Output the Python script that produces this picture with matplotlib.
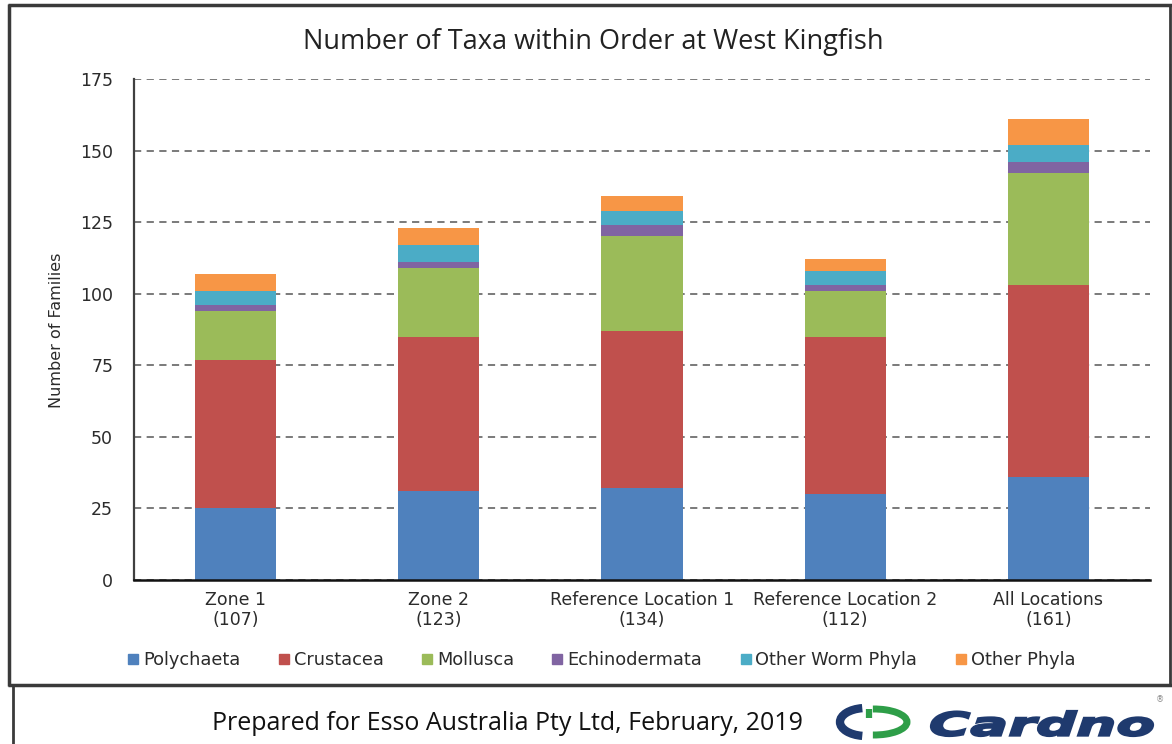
import numpy as np
import matplotlib
matplotlib.use("Agg")
import matplotlib.pyplot as plt
from matplotlib.lines import Line2D
from matplotlib.patches import Arc, PathPatch
from matplotlib.textpath import TextPath
from matplotlib.font_manager import FontProperties
from matplotlib.transforms import Affine2D

# number of families per group at each location
locations = ["Zone 1", "Zone 2", "Reference Location 1", "Reference Location 2", "All Locations"]
groups = ["Polychaeta", "Crustacea", "Mollusca", "Echinodermata", "Other Worm Phyla", "Other Phyla"]
polychaeta = [25, 31, 32, 30, 36]
crustacea = [52, 54, 55, 55, 67]
mollusca = [17, 24, 33, 16, 39]
echinodermata = [2, 2, 4, 2, 4]
other_worm = [5, 6, 5, 5, 6]
other_phyla = [6, 6, 5, 4, 9]
y_ticks = [0, 25, 50, 75, 100, 125, 150, 175]

colors = ["#4F81BD", "#C0504D", "#9BBB59", "#8064A2", "#4BACC6", "#F79646"]
series = [polychaeta, crustacea, mollusca, echinodermata, other_worm, other_phyla]

W, H = 1172, 744
fig = plt.figure(figsize=(W / 100, H / 100), dpi=100)

# full-figure layer in pixel units for the frame and footer
deco = fig.add_axes([0, 0, 1, 1], zorder=-1)
deco.set_xlim(0, W)
deco.set_ylim(H, 0)
deco.axis("off")

frame = "#3a3a3a"
deco.plot([8, W], [5, 5], color=frame, lw=2.5, solid_capstyle="butt")
deco.plot([9, 9], [4, 686], color=frame, lw=2.5, solid_capstyle="butt")
deco.plot([1170, 1170], [4, 686], color=frame, lw=2.0, solid_capstyle="butt")
deco.plot([8, W], [685, 685], color=frame, lw=2.5, solid_capstyle="butt")
deco.plot([13, 13], [685, H], color=frame, lw=2.0, solid_capstyle="butt")

ax = fig.add_axes([134 / W, 1 - 580 / H, (1150 - 134) / W, (580 - 79) / H])
x = np.arange(len(locations))
bottom = np.zeros(len(locations))
for name, vals, c in zip(groups, series, colors):
    ax.bar(x, vals, 0.4, bottom=bottom, color=c, label=name, zorder=2)
    bottom += np.array(vals)
totals = bottom.astype(int)

ax.set_xlim(-0.5, len(locations) - 0.5)
ax.set_ylim(0, 175)
ax.set_yticks(y_ticks)
ax.set_xticks(x)
ax.set_xticklabels([f"{n}\n({t})" for n, t in zip(locations, totals)])
ax.yaxis.grid(True, linestyle=(0, (4, 3)), color="#6f6f6f", lw=1.3, zorder=0)
ax.set_axisbelow(True)

tick_font = {"family": "DejaVu Sans", "size": 12.5}
for lbl in ax.get_yticklabels():
    lbl.set_fontproperties(FontProperties(**tick_font))
    lbl.set_color("#2b2b2b")
for lbl in ax.get_xticklabels():
    lbl.set_fontproperties(FontProperties(**tick_font))
    lbl.set_color("#2b2b2b")
    lbl.set_linespacing(1.15)
ax.tick_params(axis="y", length=0, pad=15)
ax.tick_params(axis="x", length=0, pad=8)

for side in ["top", "right"]:
    ax.spines[side].set_visible(False)
ax.spines["left"].set_color("#404040")
ax.spines["left"].set_linewidth(1.6)
ax.spines["bottom"].set_color("#111111")
ax.spines["bottom"].set_linewidth(1.8)

fig.text(57 / W, 1 - 330 / H, "Number of Families", rotation=90, ha="center", va="center",
         family="DejaVu Sans", size=11.5, color="#2b2b2b")
fig.text(593 / W, 1 - 42 / H, "Number of Taxa within Order at West Kingfish", ha="center",
         va="center", family="Open Sans", size=19.5, color="#222222")

handles = [Line2D([], [], marker="s", ls="none", color=c, markersize=6.5) for c in colors]
fig.legend(handles, groups, loc="center", bbox_to_anchor=(601 / W, 1 - 660 / H), ncol=6,
           frameon=False, handlelength=0.7, handletextpad=0.2, columnspacing=2.1,
           prop=FontProperties(family="DejaVu Sans", size=12.8), labelcolor="#2b2b2b")

# footer
fig.text(507 / W, 1 - 724 / H, "Prepared for Esso Australia Pty Ltd, February, 2019",
         ha="center", va="center", family="Open Sans", size=18, color="#111111")

navy = "#1F3A6E"
green = "#2E9E48"
deco.add_patch(Arc((866, 722), 52, 28, theta1=105, theta2=255, lw=6, color=navy))
deco.add_patch(Arc((874, 722), 66, 26, theta1=-95, theta2=95, lw=5, color=green))
deco.plot([869, 869], [709, 718], color=green, lw=4.5, solid_capstyle="butt")

tp = TextPath((0, 0), "Cardno", size=1,
              prop=FontProperties(family="DejaVu Sans", weight="bold", style="italic"))
bb = tp.get_extents()
sx = 222 / bb.width
sy = 25 / bb.height
logo_tf = Affine2D().translate(-bb.x0, -bb.y0).scale(sx, -sy).translate(931, 736)
deco.add_patch(PathPatch(logo_tf.transform_path(tp), facecolor=navy, edgecolor=navy, lw=1.6))
deco.text(1160, 700, "®", ha="center", va="center", size=6, color="#888888")

fig.savefig("out.png", dpi=100)
